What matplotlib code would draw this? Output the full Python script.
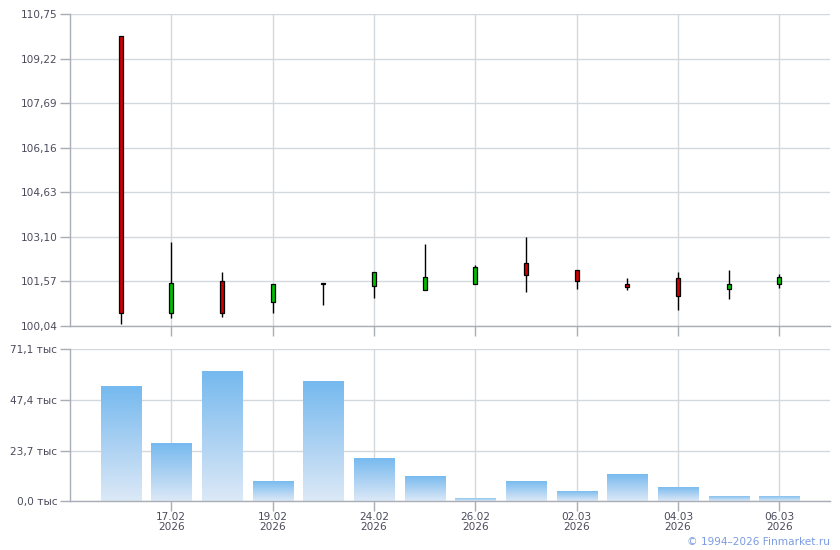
import matplotlib
matplotlib.use("Agg")
import matplotlib.pyplot as plt
import numpy as np
from matplotlib.colors import LinearSegmentedColormap

dates = ["16.02", "17.02", "18.02", "19.02", "20.02", "24.02", "25.02",
         "26.02", "27.02", "02.03", "03.03", "04.03", "05.03", "06.03"]
year = "2026"
opens  = [109.99, 100.48, 101.57, 100.87, 101.48, 101.42, 101.29, 101.47, 102.19, 101.95, 101.47, 101.68, 101.32, 101.47]
closes = [100.48, 101.51, 100.48, 101.47, 101.48, 101.88, 101.71, 102.06, 101.78, 101.60, 101.39, 101.08, 101.47, 101.71]
highs  = [109.99, 102.91, 101.88, 101.47, 101.49, 101.88, 102.84, 102.12, 103.08, 101.95, 101.68, 101.88, 101.95, 101.81]
lows   = [100.10, 100.30, 100.34, 100.50, 100.77, 101.01, 101.29, 101.47, 101.22, 101.31, 101.29, 100.60, 100.98, 101.35]
volumes = [53.8, 27.2, 60.8, 9.5, 56.2, 20.2, 11.8, 1.5, 9.5, 4.8, 12.7, 6.7, 2.5, 2.5]  # thousands

price_ticks = [100.04, 101.57, 103.10, 104.63, 106.16, 107.69, 109.22, 110.75]
vol_ticks = [0.0, 23.7, 47.4, 71.1]
label_idx = [1, 3, 5, 7, 9, 11, 13]

text_color = "#4b4b5c"
grid_color = "#d3d8dd"
spine_color = "#a9adb5"
fs = 7.6

fig = plt.figure(figsize=(8.4, 5.5), dpi=100)
ax1 = fig.add_axes([70/840, 1-326/550, 760/840, 312/550])
ax2 = fig.add_axes([70/840, 1-501.3/550, 760/840, 152.3/550])

x = np.arange(len(dates))

def style(ax):
    for s in ["top", "right"]:
        ax.spines[s].set_visible(False)
    for s in ["left", "bottom"]:
        ax.spines[s].set_color(spine_color)
        ax.spines[s].set_linewidth(1.0)
    ax.tick_params(axis="both", colors=spine_color, labelcolor=text_color,
                   labelsize=fs, length=7, width=1.0, direction="out")
    ax.tick_params(axis="y", pad=2)
    ax.grid(True, color=grid_color, linewidth=1.0)
    ax.set_axisbelow(True)
    ax.set_xlim(-1, 14)
    ax.set_xticks(x[label_idx])

# Candles
style(ax1)
ax1.set_ylim(price_ticks[0], price_ticks[-1])
ax1.set_yticks(price_ticks)
ax1.set_yticklabels([f"{t:.2f}".replace(".", ",") for t in price_ticks])
ax1.set_xticklabels([])
ax1.vlines(x, lows, highs, color="black", linewidth=1.0, zorder=3)
bottoms = [min(o, c) for o, c in zip(opens, closes)]
heights = [max(abs(c - o), 0.02) for o, c in zip(opens, closes)]
cols = ["#00c000" if c > o else ("#cc0000" if c < o else "black") for o, c in zip(opens, closes)]
ax1.bar(x, heights, bottom=bottoms, width=0.075, color=cols, edgecolor="black",
        linewidth=0.9, zorder=4)

# Volume
style(ax2)
ax2.set_ylim(vol_ticks[0], vol_ticks[-1])
ax2.set_yticks(vol_ticks)
ax2.set_yticklabels([f"{t:.1f} тыс".replace(".", ",") for t in vol_ticks])
ax2.set_xticklabels([f"{dates[i]}\n{year}" for i in label_idx], linespacing=1.05)
ax2.tick_params(axis="x", pad=0.5)
cmap = LinearSegmentedColormap.from_list("vb", ["#dce9f7", "#a9d0f2", "#74b9ef"])
grad = np.linspace(0, 1, 256).reshape(-1, 1)
bars = ax2.bar(x, volumes, width=0.79, color="none", edgecolor="none", zorder=2)
for b, v in zip(bars, volumes):
    im = ax2.imshow(grad, extent=[b.get_x(), b.get_x() + b.get_width(), 0, v],
                    origin="lower", cmap=cmap, aspect="auto", zorder=2)
    im.set_clip_path(b)
ax2.set_xlim(-1, 14)
ax2.set_ylim(vol_ticks[0], vol_ticks[-1])

fig.text(830/840, 1-542/550, "© 1994–2026 Finmarket.ru", color="#7b9be2",
         fontsize=fs, ha="right", va="center")

fig.savefig("out.png", dpi=100)
